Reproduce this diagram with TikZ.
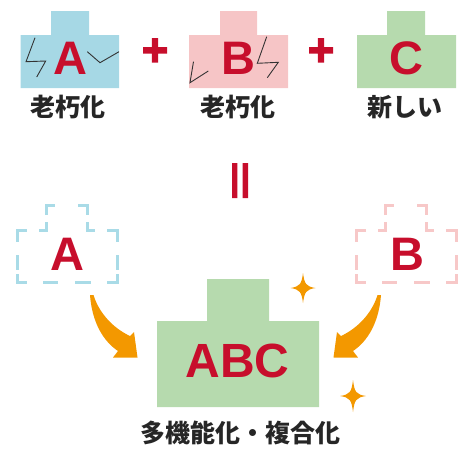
\documentclass[tikz,border=0pt]{standalone}
\usepackage{fontspec}
\setmainfont{Liberation Sans}
\newfontfamily\jp{Noto Sans CJK JP}
\definecolor{cblue}{HTML}{A6D8E5}
\definecolor{cpink}{HTML}{F6C5C6}
\definecolor{cgreen}{HTML}{B6DAAE}
\definecolor{cred}{HTML}{C70E2C}
\definecolor{corange}{HTML}{F39800}
\definecolor{cdblue}{HTML}{A9DBE7}
\definecolor{cdpink}{HTML}{F7C8C8}
\begin{document}
\begin{tikzpicture}[x=1pt,y=-1pt,
  letter/.style={inner sep=0pt,text=cred,font=\bfseries\fontsize{47}{50}\selectfont},
  bigletter/.style={inner sep=0pt,text=cred,font=\bfseries\fontsize{48}{52}\selectfont},
  lbl/.style={inner sep=0pt,text=black!85,font=\jp\bfseries\fontsize{25}{30}\selectfont},
  crack/.style={draw=black!80,line width=0.9pt,line join=miter},
  dashA/.style={draw=cdblue,line width=3pt,line cap=butt,line join=miter},
  dashB/.style={draw=cdpink,line width=3pt,line cap=butt,line join=miter},
  orangefill/.style={fill=corange,draw=none},
  redfill/.style={fill=cred,draw=none}]
\useasboundingbox (0,0) rectangle (462,448);
% ---- top boxes
\fill[cblue] (20.5,35) rectangle (119,88) (51,11) rectangle (89,35.5);
\fill[cpink] (189,35) rectangle (288,88) (220,11) rectangle (257,35.5);
\fill[cgreen] (357,35) rectangle (456,88) (387,11) rectangle (425,35.5);
\draw[crack] (35,37.7) -- (26,61.7) -- (45.7,61) -- (36.7,77);
\draw[crack] (87.3,51.7) -- (100,62.7) -- (119,51.7);
\draw[crack] (266.7,36.7) -- (257.3,63.3) -- (278.3,62.3) -- (267.3,77.7);
\draw[crack] (193.5,61.7) -- (190,82.7) -- (208.3,71);
\node[letter] (tA) at (70,58.5) {A};
\node[letter] (tB) at (238.5,58.5) {B};
\node[letter] (tC) at (406,58.5) {C};
\node[lbl] (lA) at (67.5,107.5) {老朽化};
\node[lbl] (lB) at (237.5,107.5) {老朽化};
\node[lbl] (lC) at (405,107.5) {新しい};
% plus signs
\fill[redfill] (143,47) rectangle (167,53.5) (151.8,38) rectangle (158.2,62.5);
\fill[redfill] (309,47) rectangle (333,53.5) (317.8,38) rectangle (324.2,62.5);
% equals (vertical)
\fill[redfill] (232,163) rectangle (237.3,198) (242.7,163) rectangle (248,198);
% ---- dashed A
\begin{scope}
\draw[dashA] (46,215)--(46,205)--(55,205);
\draw[dashA] (78,205)--(87,205)--(87,215);
\draw[dashA] (39,230)--(46,230)--(46,222);
\draw[dashA] (87,222)--(87,230)--(95,230);
\draw[dashA] (27,230)--(17,230)--(17,242);
\draw[dashA] (107,230)--(117,230)--(117,242);
\draw[dashA] (17,255)--(17,270) (117,255)--(117,270);
\draw[dashA] (17,274)--(17,282)--(27,282) (107,282)--(117,282)--(117,274);
\draw[dashA] (43,282)--(58,282) (75,282)--(91,282);
\end{scope}
\begin{scope}[xshift=339pt]
\draw[dashB] (46,215)--(46,205)--(55,205);
\draw[dashB] (78,205)--(87,205)--(87,215);
\draw[dashB] (39,230)--(46,230)--(46,222);
\draw[dashB] (87,222)--(87,230)--(95,230);
\draw[dashB] (27,230)--(17,230)--(17,242);
\draw[dashB] (107,230)--(117,230)--(117,242);
\draw[dashB] (17,255)--(17,270) (117,255)--(117,270);
\draw[dashB] (17,274)--(17,282)--(27,282) (107,282)--(117,282)--(117,274);
\draw[dashB] (43,282)--(58,282) (75,282)--(91,282);
\end{scope}
\node[letter] (dA) at (67.5,254) {A};
\node[letter] (dB) at (407,254) {B};
% ---- orange arrows
\fill[orangefill] (90,295) .. controls (92,322) and (103,341) .. (118,351) -- (113,357.5) -- (137.5,357.5) -- (134,332) -- (130,336) .. controls (113,328) and (99,313) .. (93.5,295) -- cycle;
\fill[orangefill] (381,295) .. controls (379,322) and (368,341) .. (353,351) -- (358,357.5) -- (333.5,357.5) -- (337,332) -- (341,336) .. controls (358,328) and (372,313) .. (377.5,295) -- cycle;
% ---- ABC box
\fill[cgreen] (157,321) rectangle (319,407) (207,279) rectangle (269,321.5);
\node[bigletter] (abc) at (237.5,360.5) {ABC};
\node[lbl] (lABC) at (240,433) {多機能化・複合化};
% sparkles
\fill[orangefill] (303,273) .. controls (304.5,284) and (306,286.5) .. (315.5,288) .. controls (306,289.5) and (304.5,292) .. (303,303) .. controls (301.5,292) and (300,289.5) .. (290.5,288) .. controls (300,286.5) and (301.5,284) .. (303,273) -- cycle;
\fill[orangefill] (353,380) .. controls (354.5,392) and (356,394.5) .. (366,396) .. controls (356,397.5) and (354.5,400) .. (353,412) .. controls (351.5,400) and (350,397.5) .. (340,396) .. controls (350,394.5) and (351.5,392) .. (353,380) -- cycle;
\end{tikzpicture}
\end{document}
